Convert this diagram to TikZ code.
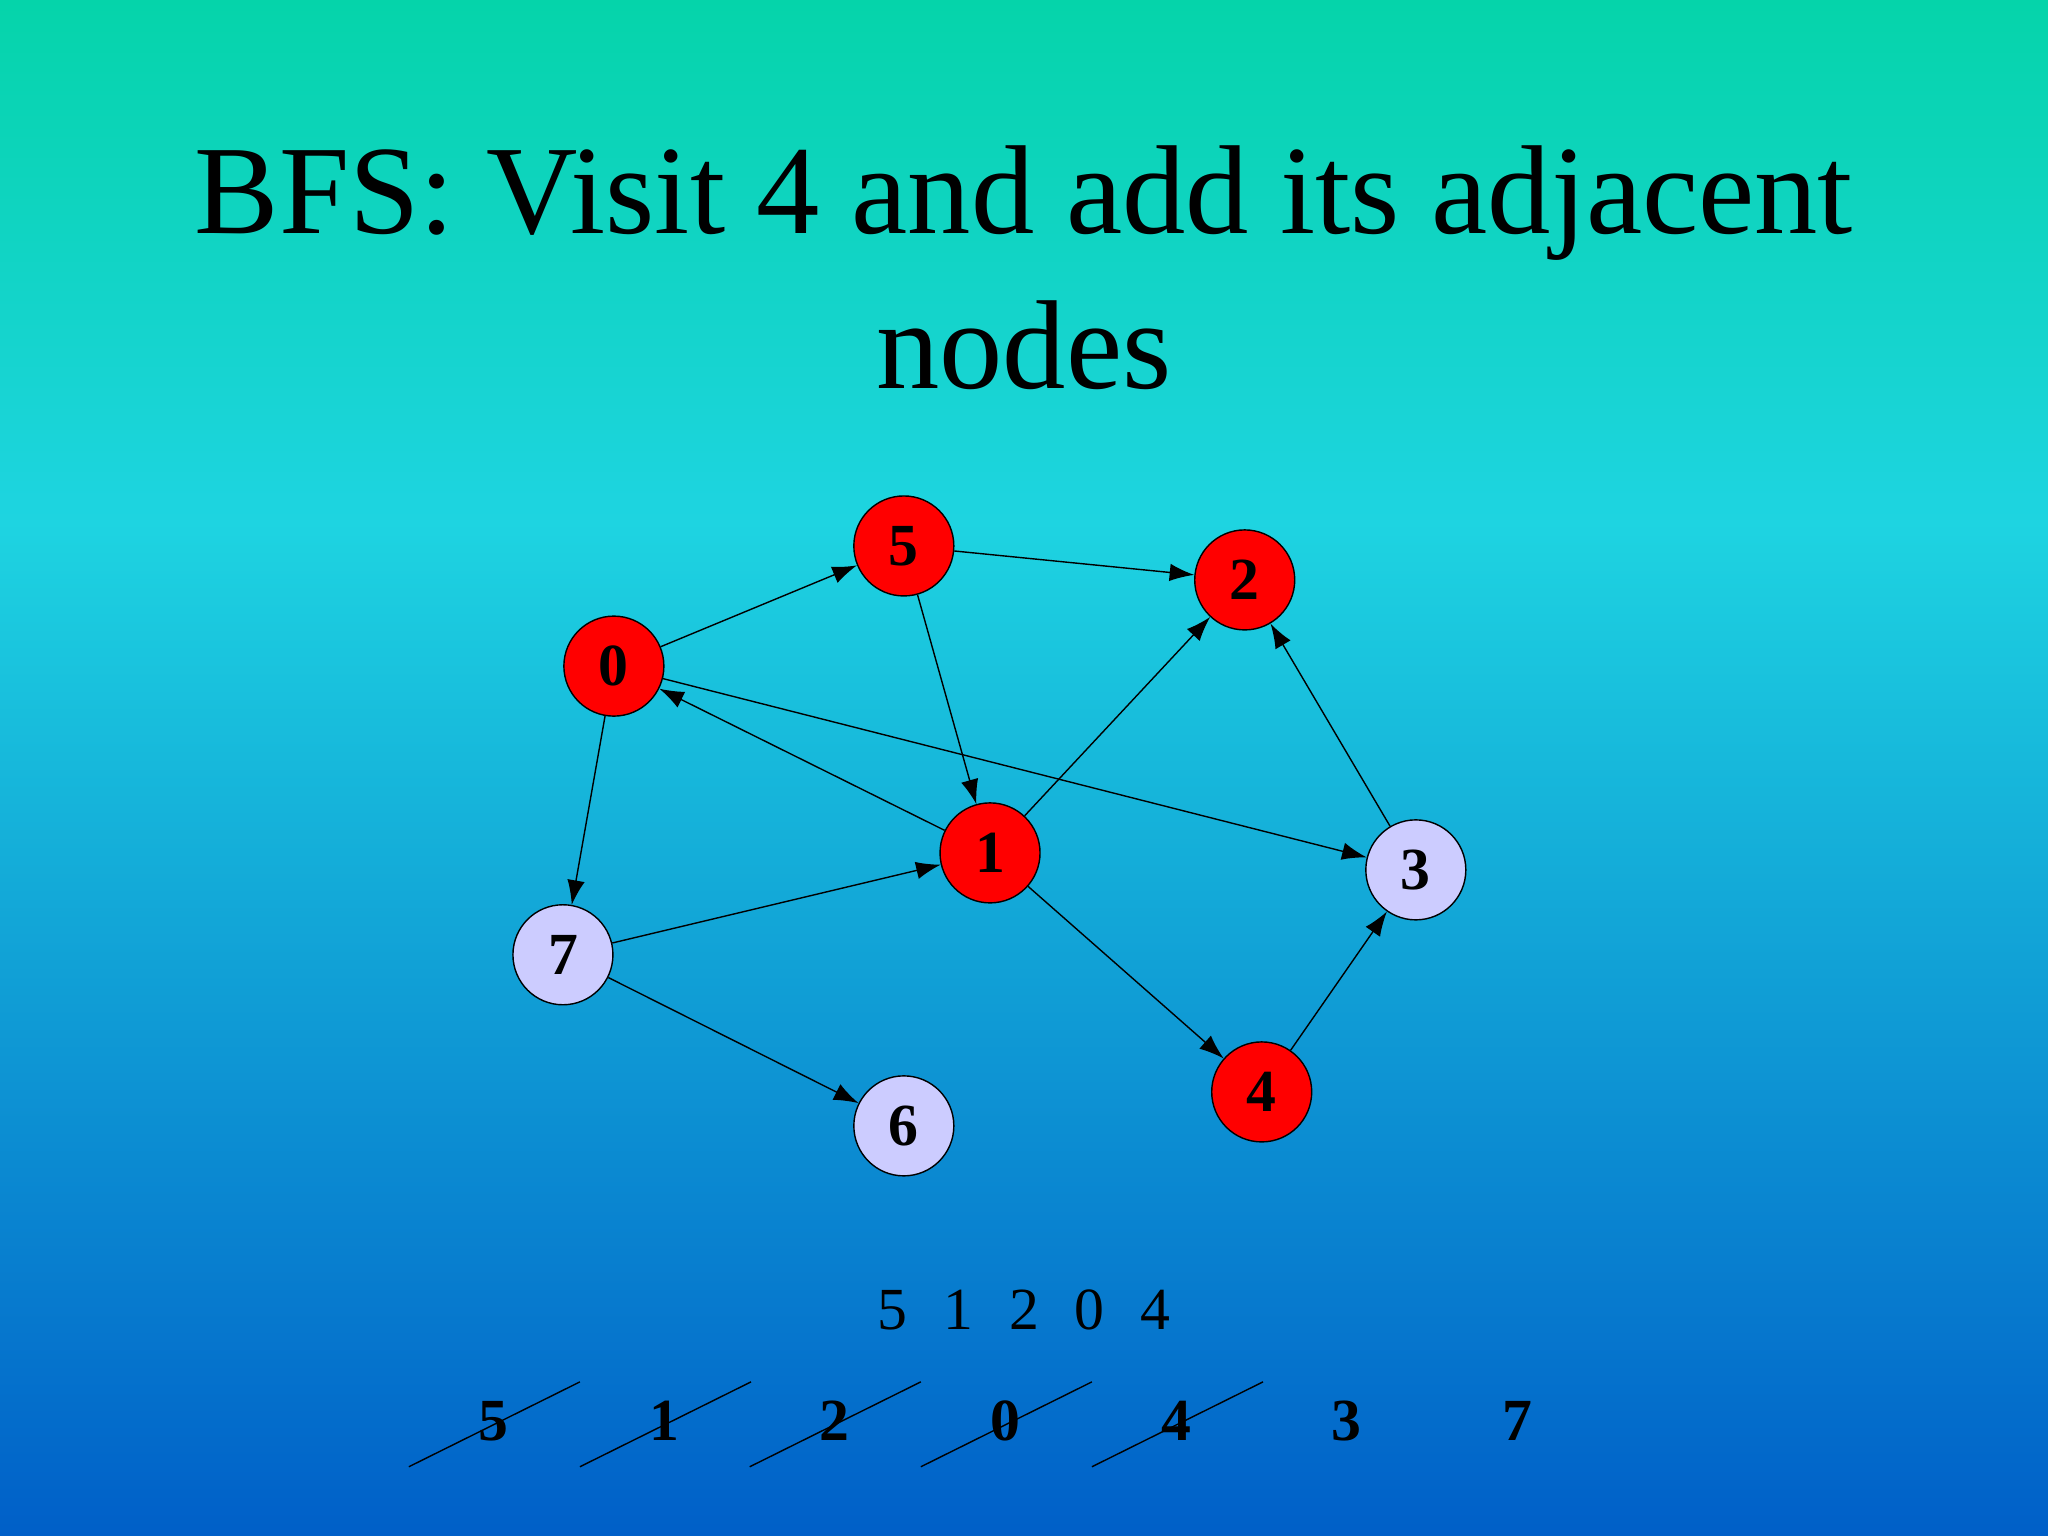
\documentclass[tikz,border=0pt]{standalone}
\usepackage{fontspec}
\setmainfont{Liberation Serif}
\usetikzlibrary{arrows.meta}
\definecolor{topc}{RGB}{5,212,170}
\definecolor{midc}{RGB}{30,212,225}
\definecolor{botc}{RGB}{0,95,200}
\definecolor{lav}{RGB}{204,204,255}
\begin{document}
\begin{tikzpicture}[x=0.01306cm,y=-0.01306cm,
  gnode/.style={circle,draw=black,thin,minimum size=1.0cm,inner sep=0pt,font=\fontsize{17}{17}\selectfont\bfseries},
  vis/.style={gnode,fill=red},
  unv/.style={gnode,fill=lav},
  edge/.style={-{Latex[length=7pt,width=5pt]},thin},
  qtxt/.style={font=\fontsize{17}{17}\selectfont\bfseries}]
\shade[top color=topc,bottom color=botc,middle color=midc,shading angle=0] (0,0) rectangle (1568,1176);
\shade[top color=midc,bottom color=botc] (0,400) rectangle (1568,1176);
\shade[top color=topc,bottom color=midc] (0,0) rectangle (1568,401);
\useasboundingbox (0,0) rectangle (1568,1176);
\node[align=center,font=\fontsize{36}{44}\selectfont] (title) at (784,205) {BFS: Visit 4 and add its adjacent\\nodes};
\node[vis] (n5) at (692,418) {5};
\node[vis] (n2) at (953,444) {2};
\node[vis] (n0) at (470,510) {0};
\node[vis] (n1) at (758,653) {1};
\node[unv] (n3) at (1084,666) {3};
\node[unv] (n7) at (431,731) {7};
\node[vis] (n4) at (966,836) {4};
\node[unv] (n6) at (692,862) {6};
\draw[edge] (n0) -- (n5);
\draw[edge] (n5) -- (n2);
\draw[edge] (n5) -- (n1);
\draw[edge] (n1) -- (n0);
\draw[edge] (n0) -- (n3);
\draw[edge] (n0) -- (n7);
\draw[edge] (n7) -- (n1);
\draw[edge] (n1) -- (n2);
\draw[edge] (n1) -- (n4);
\draw[edge] (n3) -- (n2);
\draw[edge] (n4) -- (n3);
\draw[edge] (n7) -- (n6);
\node[font=\fontsize{17}{17}\selectfont] (queue) at (784,1003) {5\hspace{0.6em}1\hspace{0.6em}2\hspace{0.6em}0\hspace{0.6em}4};
\foreach \v/\x [count=\i] in {5/378,1/509,2/639,0/770,4/901,3/1031,7/1162}{
  \node[qtxt] (q\i) at (\x,1088) {\v};
}
\foreach \i in {1,...,5}{
  \coordinate (sa\i) at ([shift={(-65,35)}]q\i.center);
  \coordinate (sb\i) at ([shift={(66,-30)}]q\i.center);
  \draw[thin] (sa\i) -- (sb\i);
}
\end{tikzpicture}
\end{document}
